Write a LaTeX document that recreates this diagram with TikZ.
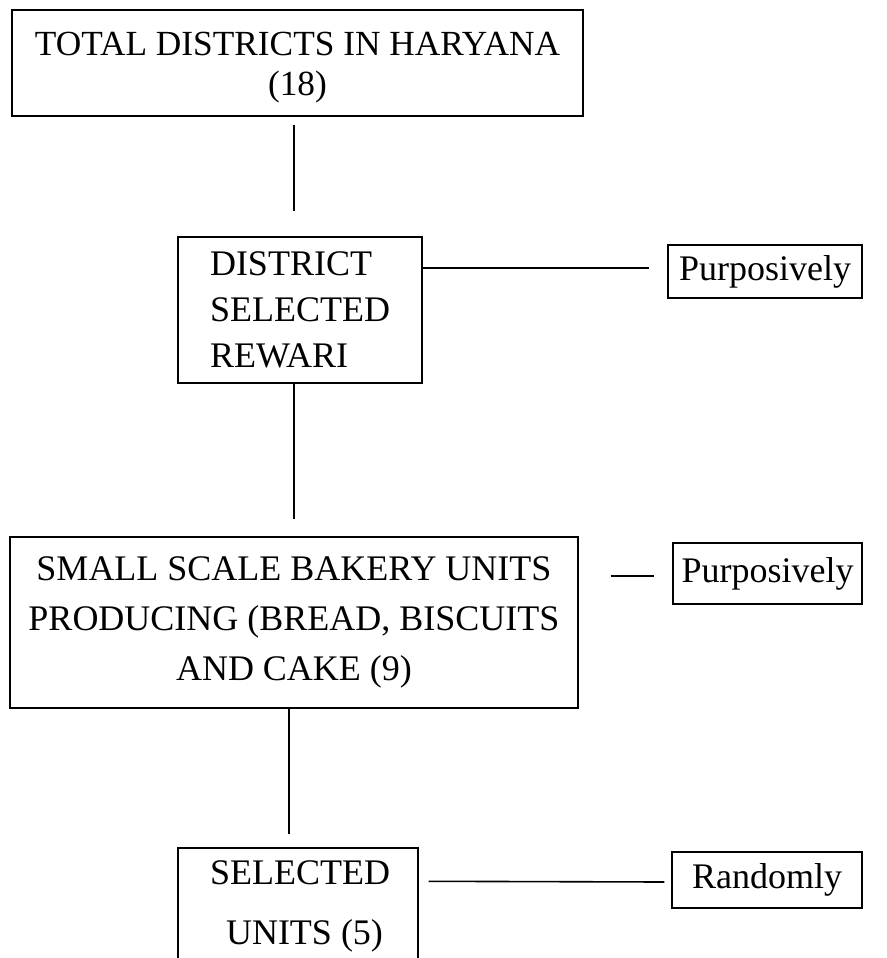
\documentclass[tikz,border=0pt]{standalone}
\usepackage{fontspec}
\setmainfont{Liberation Serif}
\usetikzlibrary{calc}
\begin{document}
\begin{tikzpicture}[x=1pt,y=-1pt,
  box/.style={draw,line width=1.4pt,inner sep=0pt,minimum width=#1},
  big/.style={font=\fontsize{36}{46}\selectfont},
  conn/.style={line width=1.6pt}]
\useasboundingbox (0,0) rectangle (886,958);
\clip (0,0) rectangle (886,958);
\node[box=571pt,minimum height=106pt] (b1) at (297.5,63) {};
\node[align=center,inner sep=0pt,font=\fontsize{35.3}{40}\selectfont] (t1) at (297.5,68)
  {TOTAL DISTRICTS IN HARYANA\\(18)};
\node[box=244pt,minimum height=146pt,big,align=left] (b2) at (300,310)
  {DISTRICT\\SELECTED\\REWARI};
\node[box=194pt,minimum height=53pt,big] (p1) at (765,271.5) {Purposively};
\node[box=568pt,minimum height=171pt,font=\fontsize{36}{50}\selectfont,align=center] (b3) at (294,622.5)
  {SMALL SCALE BAKERY UNITS\\PRODUCING (BREAD, BISCUITS\\AND CAKE (9)};
\node[box=189pt,minimum height=61pt,big] (p2) at (767.5,573.5) {Purposively};
\node[box=240pt,minimum height=160pt,inner sep=0pt] (b4) at (298,928) {};
\node[align=center,inner sep=0pt,font=\fontsize{36}{60}\selectfont] (t4) at (300,906)
  {SELECTED\\\ UNITS (5)};
\node[box=190pt,minimum height=56pt,big] (r1) at (767,880) {Randomly};
% connectors
\coordinate (c1a) at ($(b1.south)+(-3.5,8)$);
\coordinate (c1b) at ($(b2.north)+(-6,-25)$);
\draw[conn] (c1a) -- (c1b);
\coordinate (c2a) at ($(b2.south)+(-6,0)$);
\coordinate (c2b) at ($(b3.north)+(0,-17)$);
\draw[conn] (c2a) -- (c2b);
\coordinate (c3a) at ($(b3.south)+(-5,0)$);
\coordinate (c3b) at ($(b4.north)+(-9,-13)$);
\draw[conn] (c3a) -- (c3b);
\draw[conn] ($(b2.east)+(0,-42)$) -- ($(p1.west)+(-18,-3.5)$);
\draw[conn] ($(b3.east)+(32,-46.5)$) -- ($(p2.west)+(-18,2.5)$);
\draw[conn] ($(b4.north east)+(10,34)$) -- ($(r1.west)+(-7,2)$);
\end{tikzpicture}
\end{document}
